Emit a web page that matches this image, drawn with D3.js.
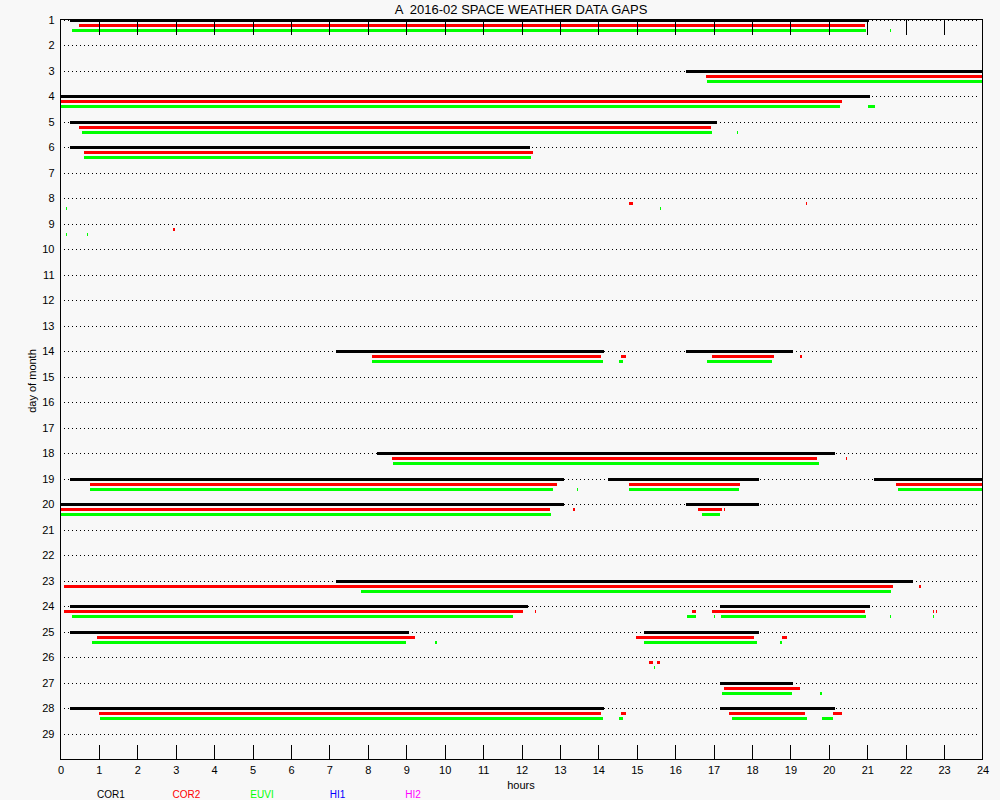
<!DOCTYPE html>
<html>
<head>
<meta charset="utf-8">
<script src="https://cdn.jsdelivr.net/npm/d3@7"></script>
<style>
  html, body { margin: 0; padding: 0; background: #f8f8f8; }
  svg { display: block; }
  text { font-family: "Liberation Sans", Arial, sans-serif; }
</style>
</head>
<body>
<svg id="chart" width="1000" height="800"></svg>
<script>
// ---------------- DATA ----------------
const title = "A  2016-02 SPACE WEATHER DATA GAPS";
const days = d3.range(1, 30);              // day-of-month tick labels 1..29
const hourTicks = d3.range(0, 25);         // hour tick labels 0..24

// Each gap: [day, startHour, endHour]
const cor1Gaps = [
  [1, 0.26, 21.05],
  [3, 16.27, 24],
  [4, 0, 21.08],
  [5, 0.26, 17.1],
  [6, 0.26, 12.23],
  [14, 7.18, 14.16], [14, 16.27, 19.08],
  [18, 8.25, 20.17],
  [19, 0.26, 13.1], [19, 14.26, 18.17], [19, 21.18, 24],
  [20, 0, 13.1], [20, 16.27, 18.17],
  [23, 7.18, 22.18],
  [24, 0.26, 12.16], [24, 17.18, 21.08],
  [25, 0.26, 9.08], [25, 15.18, 18.17],
  [27, 17.18, 19.08],
  [28, 0.26, 14.16], [28, 17.18, 20.17]
];
const cor2Gaps = [
  [1, 0.47, 20.93],
  [3, 16.79, 24],
  [4, 0, 20.33],
  [5, 0.49, 16.92],
  [6, 0.62, 12.31],
  [8, 14.81, 14.9], [8, 19.4, 19.43],
  [9, 2.94, 2.98],
  [14, 8.12, 14.06], [14, 14.6, 14.71], [14, 16.97, 18.56], [14, 19.26, 19.29],
  [18, 8.62, 19.7], [18, 20.45, 20.48],
  [19, 0.78, 12.93], [19, 14.79, 17.69], [19, 21.76, 24],
  [20, 0, 12.73], [20, 13.35, 13.38], [20, 16.6, 17.21], [20, 17.26, 17.29],
  [23, 0.1, 21.68], [23, 22.36, 22.39],
  [24, 0.1, 12.05], [24, 12.36, 12.39], [24, 16.45, 16.55], [24, 16.97, 20.93], [24, 22.72, 22.75], [24, 22.78, 22.81],
  [25, 0.96, 9.24], [25, 14.99, 18.06], [25, 18.77, 18.92],
  [26, 15.33, 15.41], [26, 15.54, 15.6],
  [27, 17.28, 19.24],
  [28, 0.99, 14.06], [28, 14.6, 14.71], [28, 17.41, 19.39], [28, 20.1, 20.33]
];
const euviGaps = [
  [1, 0.31, 20.98], [1, 21.6, 21.63],
  [3, 16.84, 24],
  [4, 0, 20.28], [4, 21.03, 21.19],
  [5, 0.55, 16.97], [5, 17.6, 17.63],
  [6, 0.62, 12.26],
  [8, 0.15, 0.18], [8, 15.6, 15.62],
  [9, 0.15, 0.18], [9, 0.7, 0.72],
  [14, 8.12, 14.11], [14, 14.55, 14.63], [14, 16.84, 18.51],
  [18, 8.65, 19.75],
  [19, 0.78, 12.81], [19, 13.45, 13.48], [19, 14.79, 17.65], [19, 21.81, 24],
  [20, 0, 12.78], [20, 16.71, 17.18],
  [23, 7.81, 21.63],
  [24, 0.29, 11.77], [24, 16.32, 16.53], [24, 17.0, 17.03], [24, 17.2, 20.98], [24, 21.6, 21.63], [24, 22.7, 22.73],
  [25, 0.83, 9.0], [25, 9.76, 9.79], [25, 15.2, 18.12], [25, 18.72, 18.79],
  [26, 15.44, 15.47],
  [27, 17.23, 19.03], [27, 19.78, 19.81],
  [28, 1.04, 14.11], [28, 14.55, 14.63], [28, 17.47, 19.42], [28, 19.81, 20.12]
];
const hi1Gaps = [];
const hi2Gaps = [];

const instruments = ["COR1", "COR2", "EUVI", "HI1", "HI2"];
const instrumentColors = ["#000000", "#ff0000", "#00ff00", "#0000ff", "#ff00ff"];
const instrumentGaps = [cor1Gaps, cor2Gaps, euviGaps, hi1Gaps, hi2Gaps];

// ---------------- LAYOUT ----------------
const svg = d3.select("#chart");
const plotL = 60.5, plotR = 982.5, plotT = 19.5, plotB = 759.5;

const x = d3.scaleLinear().domain([0, 24]).range([plotL, plotR]);
const y = d3.scaleLinear().domain([1, 30]).range([plotT, plotB]);
const rowOffset = d3.scaleOrdinal().domain(instruments).range([0, 5, 10, 15, 20]);

svg.append("rect").attr("width", 1000).attr("height", 800).attr("fill", "#f8f8f8");

// dotted day lines
svg.append("g").selectAll("line").data(days).join("line")
  .attr("x1", plotL + 3.5).attr("x2", plotR - 3)
  .attr("y1", d => Math.round(y(d)) + 0.5).attr("y2", d => Math.round(y(d)) + 0.5)
  .attr("stroke", "#000").attr("stroke-width", 1)
  .attr("stroke-dasharray", "1,3")
  .attr("shape-rendering", "crispEdges");

// gap bars
instruments.forEach((name, i) => {
  svg.append("g").attr("class", "gaps-" + name)
    .selectAll("rect").data(instrumentGaps[i]).join("rect")
    .attr("x", d => Math.round(x(d[1])))
    .attr("width", d => Math.max(1, Math.round(x(d[2])) - Math.round(x(d[1]))))
    .attr("y", d => Math.round(y(d[0]) + rowOffset(name)) - 1)
    .attr("height", 3)
    .attr("fill", instrumentColors[i])
    .attr("shape-rendering", "crispEdges");
});

// axes: bottom labels, inner ticks on top and bottom
const xBottom = d3.axisBottom(x).tickValues(hourTicks).tickSize(0).tickPadding(7).tickFormat(d3.format("d"));
const gxb = svg.append("g").attr("transform", `translate(0,${plotB})`).call(xBottom);
gxb.select(".domain").remove();
gxb.selectAll("text").attr("font-size", 11).attr("font-family", "Liberation Sans, Arial, sans-serif").attr("fill", "#000");

const innerTicks = hourTicks.filter(h => h > 0 && h < 24);
svg.append("g").selectAll("line").data(innerTicks).join("line")
  .attr("x1", d => Math.round(x(d)) + 0.5).attr("x2", d => Math.round(x(d)) + 0.5)
  .attr("y1", plotB).attr("y2", plotB - 15)
  .attr("stroke", "#000").attr("shape-rendering", "crispEdges");
svg.append("g").selectAll("line").data(innerTicks).join("line")
  .attr("x1", d => Math.round(x(d)) + 0.5).attr("x2", d => Math.round(x(d)) + 0.5)
  .attr("y1", plotT).attr("y2", plotT + 15)
  .attr("stroke", "#000").attr("shape-rendering", "crispEdges");

// frame
svg.append("rect")
  .attr("x", plotL).attr("y", plotT)
  .attr("width", plotR - plotL).attr("height", plotB - plotT)
  .attr("fill", "none").attr("stroke", "#000").attr("stroke-width", 1)
  .attr("shape-rendering", "crispEdges");

// y axis labels
const yAxis = d3.axisLeft(y).tickValues(days).tickSize(0).tickPadding(5).tickFormat(d3.format("d"));
const gy = svg.append("g").attr("transform", `translate(${plotL - 1},0)`).call(yAxis);
gy.select(".domain").remove();
gy.selectAll("text").attr("font-size", 11).attr("font-family", "Liberation Sans, Arial, sans-serif").attr("fill", "#000");

// title
svg.append("text").attr("x", 521).attr("y", 14).attr("text-anchor", "middle")
  .attr("font-size", 13).style("white-space", "pre").attr("xml:space", "preserve").text(title);

// axis titles
svg.append("text").attr("x", 521).attr("y", 789).attr("text-anchor", "middle")
  .attr("font-size", 11).text("hours");
svg.append("text").attr("transform", "translate(36,381) rotate(-90)").attr("text-anchor", "middle")
  .attr("font-size", 11).text("day of month");

// legend
const legendX = d3.scalePoint().domain(instruments).range([111, 413]);
svg.append("g").selectAll("text").data(instruments).join("text")
  .attr("x", d => legendX(d)).attr("y", 798).attr("text-anchor", "middle")
  .attr("font-size", 10)
  .attr("fill", (d, i) => instrumentColors[i])
  .text(d => d);
</script>
</body>
</html>
